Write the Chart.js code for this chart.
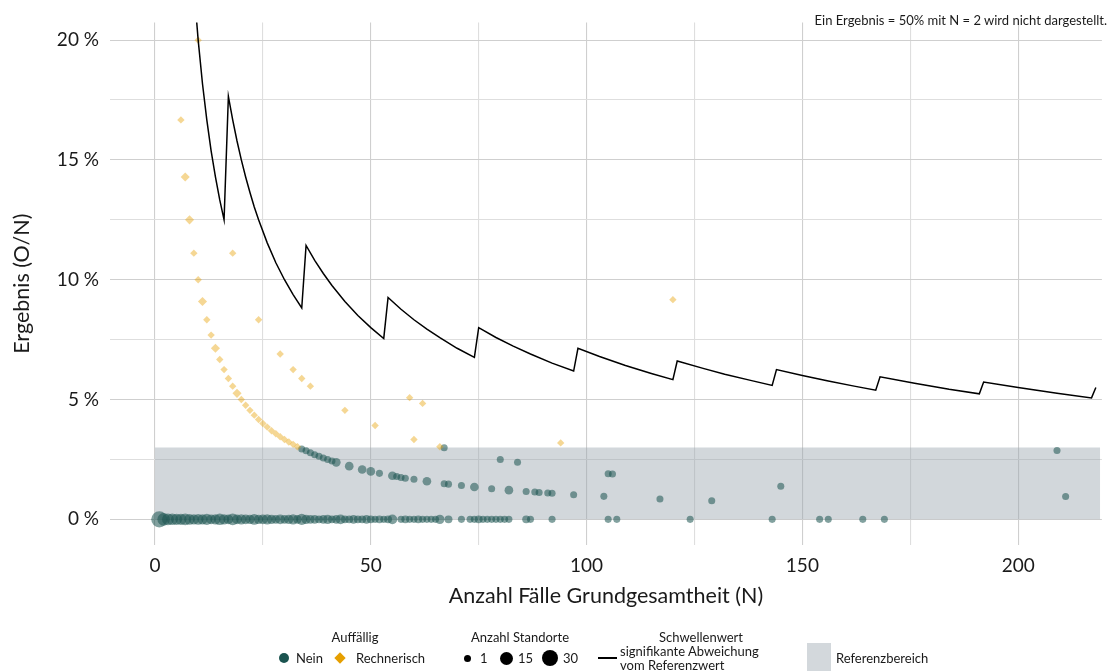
<!DOCTYPE html>
<html>
<head>
<meta charset="utf-8">
<script src="https://cdn.jsdelivr.net/npm/chart.js@4.4.0/dist/chart.umd.min.js"></script>
<style>
  html, body { margin: 0; padding: 0; background: #ffffff; }
  #wrap { position: relative; width: 1110px; height: 671px; overflow: hidden; font-family: Lato, "Open Sans", sans-serif; color: #1a1a1a; }
  #c { position: absolute; left: 0; top: 0; }
  .t { position: absolute; white-space: nowrap; font-size: 13px; line-height: 16px; height: 16px; }
  .ctr { transform: translateX(-50%); }
  .dot { position: absolute; border-radius: 50%; background: #1b5450; }
</style>
</head>
<body>
<div id="wrap">
  <canvas id="c" width="1110" height="671"></canvas>
  <div class="t" style="right:3px; top:12px;">Ein Ergebnis = 50% mit N = 2 wird nicht dargestellt.</div>

  <div class="t ctr" style="left:355px; top:629px;">Auffällig</div>
  <div class="dot" style="left:279px; top:653px; width:10px; height:10px;"></div>
  <div class="t" style="left:296px; top:650px;">Nein</div>
  <div style="position:absolute; left:336px; top:654px; width:8px; height:8px; background:#E69F00; transform:rotate(45deg);"></div>
  <div class="t" style="left:356px; top:650px;">Rechnerisch</div>

  <div class="t ctr" style="left:520px; top:629px;">Anzahl Standorte</div>
  <div class="dot" style="background:#000; left:463.5px; top:654.5px; width:7px; height:7px;"></div>
  <div class="t" style="left:480px; top:650px;">1</div>
  <div class="dot" style="background:#000; left:499.5px; top:651.5px; width:13px; height:13px;"></div>
  <div class="t" style="left:518px; top:650px;">15</div>
  <div class="dot" style="background:#000; left:542px; top:650px; width:16px; height:16px;"></div>
  <div class="t" style="left:563px; top:650px;">30</div>

  <div class="t ctr" style="left:701px; top:629px;">Schwellenwert</div>
  <div style="position:absolute; left:598px; top:657px; width:19px; height:2px; background:#000;"></div>
  <div class="t" style="left:620px; top:643px;">signifikante Abweichung</div>
  <div class="t" style="left:620px; top:657px;">vom Referenzwert</div>

  <div style="position:absolute; left:807px; top:643px; width:24px; height:28px; background:#d3d8dc;"></div>
  <div class="t" style="left:836px; top:650px;">Referenzbereich</div>
</div>
<script>
// ---------------- data ----------------
// Auffällig = Nein, Ergebnis 0 %
const neinZeroN = [1,2,3,4,5,6,7,8,9,10,11,12,13,14,15,16,17,18,19,20,21,22,23,24,25,26,27,28,29,30,
  31,32,33,34,35,36,37,38,39,40,41,42,43,44,45,46,47,48,49,50,51,52,53,54,55,57,58,59,60,61,62,63,64,65,66,
  68,71,73,74,75,76,77,78,79,80,81,82,86,87,92,105,107,124,143,154,156,164,169];
const neinZeroStandorte = [26,12,10,9,8,8,10,7,6,7,6,8,5,6,9,6,5,10,5,6,5,4,7,4,5,6,4,3,5,3,
  4,6,3,8,4,3,3,2,3,4,2,3,5,2,2,3,2,2,3,2,1,2,1,2,5,1,2,1,1,2,1,1,1,1,4,
  2,1,1,1,2,1,1,1,1,1,1,1,2,1,1,1,1,1,1,1,1,1,1];

// Auffällig = Nein, Ergebnis > 0 %
const neinN =         [34,35,36,37,38,39,40,41,42,45,48,50,52,55,56,57,58,60,63,67,67,68,71,74,78,80,82,84,86,88,89,91,92,97,104,105,106,117,129,145,209,211];
const neinPct =       [2.94,2.86,2.78,2.70,2.63,2.56,2.50,2.44,2.38,2.22,2.08,2.00,1.92,1.82,1.79,1.75,1.72,1.67,1.59,2.99,1.49,1.47,1.41,1.35,1.28,2.50,1.22,2.38,1.16,1.14,1.12,1.10,1.09,1.03,0.96,1.90,1.89,0.85,0.78,1.38,2.87,0.95];
const neinStandorte = [1,1,1,1,1,1,1,1,3,3,3,3,1,3,1,1,1,1,3,1,1,1,1,3,1,1,3,1,1,1,1,1,1,1,1,1,1,1,1,1,1,1];

// Auffällig = Rechnerisch
const rechN =         [6,7,8,9,10,10,11,12,13,14,15,16,17,18,18,19,20,21,22,23,24,24,25,26,27,28,29,29,30,31,32,32,33,34,36,44,51,59,60,62,66,94,120];
const rechPct =       [16.67,14.29,12.50,11.11,10.00,20.00,9.09,8.33,7.69,7.14,6.67,6.25,5.88,5.56,11.11,5.26,5.00,4.76,4.55,4.35,4.17,8.33,4.00,3.85,3.70,3.57,3.45,6.90,3.33,3.23,3.13,6.25,3.03,5.88,5.56,4.55,3.92,5.08,3.33,4.84,3.03,3.19,9.17];
const rechStandorte = [1,3,3,1,1,1,3,1,1,3,1,1,1,1,1,3,1,1,1,1,1,1,1,1,1,1,1,1,1,1,1,1,1,1,1,1,1,1,1,1,1,1,1];

// Schwellenwert signifikante Abweichung vom Referenzwert
const thrN =   [9,10,11,12,13,14,15,16,
  17,18,19,20,21,22,23,24,26,28,30,32,34,
  35,37,39,41,44,47,50,53,
  54,57,60,63,66,70,74,
  75,79,83,87,92,97,
  98,103,109,115,120,
  121,127,132,138,143,
  144,150,156,162,167,
  168,176,184,191,
  192,200,209,217,
  218];
const thrPct = [22.22,20.00,18.18,16.67,15.38,14.29,13.33,12.50,
  17.65,16.67,15.79,15.00,14.29,13.64,13.04,12.50,11.54,10.71,10.00,9.38,8.82,
  11.43,10.81,10.26,9.76,9.09,8.51,8.00,7.55,
  9.26,8.77,8.33,7.94,7.58,7.14,6.76,
  8.00,7.59,7.23,6.90,6.52,6.19,
  7.14,6.80,6.42,6.09,5.83,
  6.61,6.30,6.06,5.80,5.59,
  6.25,6.00,5.77,5.56,5.39,
  5.95,5.68,5.43,5.24,
  5.73,5.50,5.26,5.07,
  5.50];

// Referenzbereich
const refN = [0, 219];
const refPct = [3, 3];

// Axis ticks
const xTicks = [0,25,50,75,100,125,150,175,200];
const xTickLabels = ['0','','50','','100','','150','','200'];
const yTicks = [0,2.5,5,7.5,10,12.5,15,17.5,20];
const yTickLabels = ['0 %','','5 %','','10 %','','15 %','','20 %'];

// ---------------- styling helpers ----------------
const TEAL = 'rgba(27,84,80,0.55)';
const ORANGE = 'rgba(230,159,0,0.42)';
const BAND = 'rgba(150,163,172,0.43)';
const sizeToRadius = s => 2.4 + 1.12 * Math.sqrt(s);

const zip = (xs, ys) => xs.map((x, i) => ({x: x, y: ys[i]}));

const datasets = [
  {
    label: 'Schwellenwert', type: 'line', order: 1,
    data: zip(thrN, thrPct),
    borderColor: '#000000', borderWidth: 1.5, pointRadius: 0, tension: 0, fill: false
  },
  {
    label: 'Rechnerisch', order: 2,
    data: zip(rechN, rechPct),
    pointStyle: 'rectRot', backgroundColor: ORANGE, borderWidth: 0, pointBorderWidth: 0,
    pointRadius: ctx => sizeToRadius(rechStandorte[ctx.dataIndex]) * 1.05
  },
  {
    label: 'Nein', order: 3,
    data: zip(neinN, neinPct),
    pointStyle: 'circle', backgroundColor: TEAL, borderWidth: 0, pointBorderWidth: 0,
    pointRadius: ctx => sizeToRadius(neinStandorte[ctx.dataIndex])
  },
  {
    label: 'Nein 0', order: 4,
    data: neinZeroN.map(n => ({x: n, y: 0})),
    pointStyle: 'circle', backgroundColor: TEAL, borderWidth: 0, pointBorderWidth: 0,
    pointRadius: ctx => sizeToRadius(neinZeroStandorte[ctx.dataIndex])
  },
  {
    label: 'Referenzbereich', type: 'line', order: 10,
    data: zip(refN, refPct),
    borderWidth: 0, borderColor: 'rgba(0,0,0,0)', pointRadius: 0, fill: 'origin', backgroundColor: BAND, tension: 0
  }
];

const gridColor = ctx => (ctx.tick && (ctx.tick.value % 5 === 0 && ctx.scale.axis === 'y' || ctx.tick.value % 50 === 0 && ctx.scale.axis === 'x')) ? '#cfcfcf' : '#dedede';

new Chart(document.getElementById('c'), {
  type: 'scatter',
  data: { datasets: datasets },
  options: {
    responsive: false,
    animation: false,
    events: [],
    layout: { padding: { top: 15, right: 0, bottom: 61, left: 0 } },
    plugins: { legend: { display: false }, tooltip: { enabled: false } },
    scales: {
      x: {
        type: 'linear', min: -10.43, max: 219.4,
        afterBuildTicks: s => { s.ticks = xTicks.map(v => ({value: v})); },
        afterFit: s => { s.height = 65; },
        ticks: {
          callback: (v, i) => xTickLabels[i],
          color: '#1a1a1a', font: { family: 'Lato', size: 19 }, padding: 9, maxRotation: 0, autoSkip: false
        },
        grid: { color: gridColor, lineWidth: 1.1, drawTicks: false },
        border: { display: false },
        title: { display: true, text: 'Anzahl Fälle Grundgesamtheit (N)', color: '#1a1a1a', font: { family: 'Lato', size: 21.5 }, padding: { top: 0, bottom: 1 } }
      },
      y: {
        type: 'linear', min: -1.07, max: 20.74,
        afterBuildTicks: s => { s.ticks = yTicks.map(v => ({value: v})); },
        afterFit: s => { s.width = 110; },
        ticks: {
          callback: (v, i) => yTickLabels[i],
          color: '#1a1a1a', font: { family: 'Lato', size: 19 }, padding: 11, autoSkip: false
        },
        grid: { color: gridColor, lineWidth: 1.1, drawTicks: false },
        border: { display: false },
        title: { display: true, text: 'Ergebnis (O/N)', color: '#1a1a1a', font: { family: 'Lato', size: 21.5 }, padding: { top: 9, bottom: 0 } }
      }
    }
  }
});
</script>
</body>
</html>
